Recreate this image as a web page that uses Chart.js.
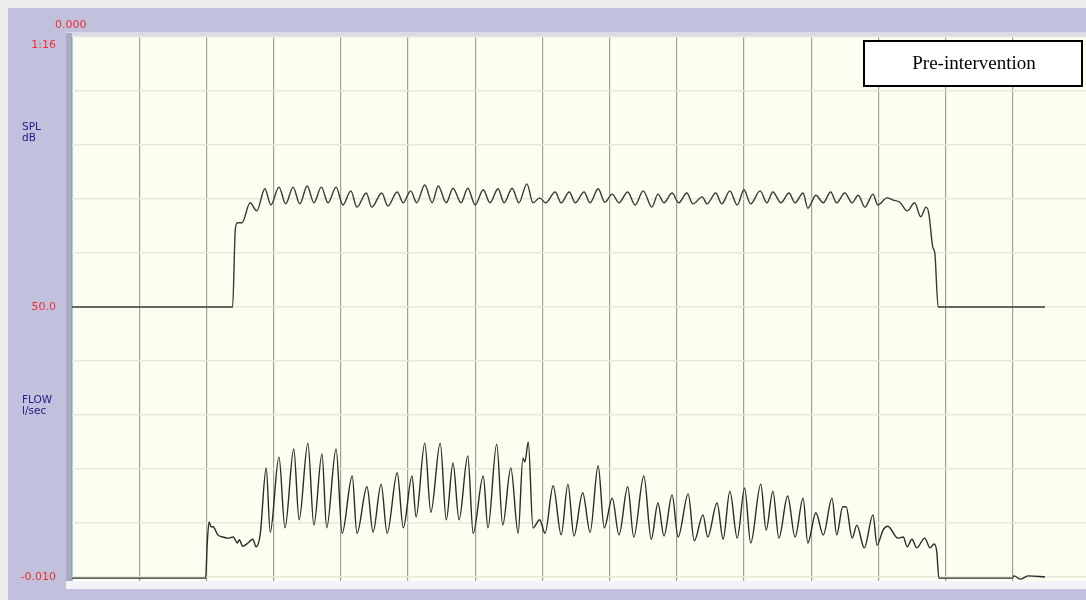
<!DOCTYPE html>
<html>
<head>
<meta charset="utf-8">
<script src="https://cdn.jsdelivr.net/npm/chart.js@4/dist/chart.umd.min.js"></script>
<style>
  html, body { margin: 0; padding: 0; background: #eeeeee; }
  #wrap { width: 1086px; height: 600px; position: relative; }
</style>
</head>
<body>
<div id="wrap"><canvas id="c" width="1086" height="600"></canvas></div>
<script>
// ---- Data (time in grid divisions, amplitude in grid divisions) ----
const splTime = [0.00,2.39,2.43,2.46,2.53,2.65,2.75,2.87,2.96,3.08,3.18,3.29,3.39,3.50,3.60,3.71,3.81,3.93,4.03,4.15,4.24,4.38,4.46,4.61,4.70,4.84,4.93,5.04,5.13,5.25,5.36,5.45,5.57,5.67,5.79,5.89,6.00,6.12,6.22,6.34,6.43,6.55,6.65,6.77,6.86,6.96,7.05,7.19,7.28,7.40,7.49,7.62,7.71,7.83,7.93,8.04,8.14,8.27,8.38,8.50,8.63,8.72,8.81,8.93,9.03,9.15,9.24,9.38,9.45,9.58,9.67,9.79,9.90,10.00,10.10,10.24,10.34,10.43,10.55,10.67,10.76,10.88,10.95,11.07,11.18,11.29,11.38,11.50,11.61,11.70,11.80,11.92,11.99,12.13,12.22,12.32,12.43,12.54,12.63,12.71,12.75,12.81,12.84,12.89,14.48];
const splLevel = [5.00,5.00,6.43,6.56,6.56,6.93,6.78,7.19,6.89,7.22,6.91,7.22,6.91,7.24,6.93,7.22,6.93,7.22,6.89,7.15,6.85,7.11,6.85,7.11,6.87,7.13,6.93,7.15,6.93,7.26,6.93,7.24,6.93,7.20,6.93,7.20,6.89,7.17,6.93,7.19,6.93,7.20,6.93,7.28,6.93,7.02,6.93,7.13,6.93,7.13,6.93,7.13,6.93,7.19,6.94,7.09,6.93,7.13,6.89,7.15,6.85,7.09,6.93,7.11,6.93,7.11,6.91,7.04,6.91,7.11,6.91,7.15,6.89,7.17,6.91,7.15,6.93,7.13,6.93,7.11,6.93,7.11,6.83,7.07,6.93,7.13,6.93,7.11,6.93,7.07,6.85,7.09,6.89,7.02,6.98,6.94,6.78,6.93,6.67,6.85,6.74,6.11,6.00,5.00,5.00];

const flowTime = [0.00,1.99,2.01,2.04,2.07,2.10,2.17,2.25,2.32,2.40,2.46,2.49,2.54,2.62,2.69,2.74,2.80,2.89,2.95,3.08,3.17,3.30,3.38,3.51,3.60,3.72,3.79,3.93,4.02,4.17,4.24,4.39,4.48,4.60,4.69,4.84,4.93,5.06,5.12,5.25,5.34,5.48,5.57,5.67,5.76,5.89,5.97,6.12,6.19,6.32,6.41,6.53,6.64,6.71,6.74,6.79,6.86,6.96,7.04,7.16,7.28,7.38,7.47,7.60,7.71,7.83,7.92,8.04,8.14,8.27,8.36,8.51,8.62,8.72,8.81,8.93,9.02,9.17,9.26,9.39,9.46,9.60,9.69,9.79,9.90,10.01,10.10,10.25,10.33,10.43,10.52,10.65,10.76,10.88,10.95,11.07,11.18,11.31,11.38,11.47,11.52,11.61,11.68,11.79,11.92,11.98,12.07,12.14,12.29,12.37,12.43,12.50,12.57,12.69,12.77,12.83,12.87,12.90,13.99,14.02,14.11,14.23,14.48];
const flowLevel = [-0.02,-0.02,0.56,1.02,0.93,0.93,0.78,0.74,0.72,0.74,0.63,0.69,0.57,0.63,0.70,0.56,0.78,2.02,0.83,2.22,0.91,2.37,1.06,2.48,0.96,2.28,0.91,2.37,0.81,1.87,0.81,1.67,0.83,1.72,0.81,1.93,0.91,1.87,1.11,2.48,1.20,2.48,1.06,2.11,1.06,2.24,0.81,1.87,0.91,2.46,0.96,2.02,0.81,2.20,2.13,2.50,0.91,1.06,0.81,1.69,0.78,1.72,0.76,1.56,0.83,2.06,0.91,1.46,0.78,1.67,0.74,1.87,0.70,1.37,0.76,1.52,0.74,1.54,0.67,1.15,0.74,1.37,0.70,1.59,0.72,1.65,0.63,1.72,0.87,1.59,0.72,1.50,0.74,1.46,0.63,1.19,0.78,1.46,0.78,1.30,1.30,0.72,0.96,0.54,1.15,0.59,0.87,0.94,0.72,0.74,0.56,0.70,0.54,0.72,0.54,0.61,0.46,-0.02,-0.02,0.02,-0.04,0.02,0.00];

const xGridTicks = [0,1,2,3,4,5,6,7,8,9,10,11,12,13,14];
const yGridTicks = [0,1,2,3,4,5,6,7,8,9,10];

const topLabel = '0.000';
const valueLabels = [ {text: '1:16', at: 10}, {text: '50.0', at: 5}, {text: '-0.010', at: 0} ];
const channelNames = [ {lines: ['SPL', 'dB'], at: 8.32}, {lines: ['FLOW', 'l/sec'], at: 3.27} ];
const legendText = 'Pre-intervention';

// ---- build datasets ----
const zip = (xs, ys) => xs.map((x, i) => ({x: x, y: ys[i]}));

const framePlugin = {
  id: 'frame',
  beforeDraw(chart) {
    const ctx = chart.ctx;
    const a = chart.chartArea;
    ctx.save();
    ctx.fillStyle = '#eeeeee';
    ctx.fillRect(0, 0, 1086, 600);
    // lavender frame
    ctx.fillStyle = '#c1c1de';
    ctx.fillRect(8, 8, 1078, 592);
    // top bevel under title bar
    ctx.fillStyle = '#dadae6';
    ctx.fillRect(66, 32, 1020, a.top - 32);
    // left dark strip
    ctx.fillStyle = '#a9a9c8';
    ctx.fillRect(66, 33, a.left - 66, a.bottom - 33 + 2);
    // bottom light bevel
    ctx.fillStyle = '#f3f3f9';
    ctx.fillRect(66, a.bottom, 1020, 589 - a.bottom);
    // plot background
    ctx.fillStyle = '#fefef0';
    ctx.fillRect(a.left, a.top, a.right - a.left, a.bottom - a.top);
    // cyan edge
    ctx.fillStyle = '#7ff0f0';
    ctx.fillRect(a.left, a.top, 1, a.bottom - a.top);
    ctx.restore();
  },
  afterDraw(chart) {
    const ctx = chart.ctx;
    const ys = chart.scales.y;
    ctx.save();
    ctx.font = '11px "DejaVu Sans", Verdana, sans-serif';
    ctx.textBaseline = 'middle';
    // top label
    ctx.fillStyle = '#f03030';
    ctx.textAlign = 'left';
    ctx.fillText(topLabel, 55, 25);
    // value labels
    ctx.textAlign = 'right';
    valueLabels.forEach(l => {
      let y = ys.getPixelForValue(l.at);
      if (l.at === 10) y += 8;
      ctx.fillText(l.text, 56, y);
    });
    // channel names
    ctx.fillStyle = '#202088';
    ctx.textAlign = 'left';
    ctx.font = '10.5px "DejaVu Sans", Verdana, sans-serif';
    channelNames.forEach(c => {
      const y0 = ys.getPixelForValue(c.at);
      c.lines.forEach((t, i) => ctx.fillText(t, 22, y0 + i * 10.5));
    });
    // legend box
    ctx.fillStyle = '#ffffff';
    ctx.fillRect(864, 41, 218, 45);
    ctx.strokeStyle = '#000000';
    ctx.lineWidth = 2;
    ctx.strokeRect(864, 41, 218, 45);
    ctx.fillStyle = '#000000';
    ctx.font = '19px "Liberation Serif", "Times New Roman", serif';
    ctx.textAlign = 'center';
    ctx.fillText(legendText, 974, 64);
    ctx.restore();
  }
};

new Chart(document.getElementById('c'), {
  type: 'line',
  data: {
    datasets: [
      { label: 'SPL dB', data: zip(splTime, splLevel), borderColor: '#383838', borderWidth: 1.4,
        pointRadius: 0, fill: false, cubicInterpolationMode: 'monotone' },
      { label: 'FLOW l/sec', data: zip(flowTime, flowLevel), borderColor: '#2a2a2a', borderWidth: 1.4,
        pointRadius: 0, fill: false, cubicInterpolationMode: 'monotone' }
    ]
  },
  options: {
    responsive: false,
    animation: false,
    events: [],
    layout: { padding: { left: 72, top: 37, right: 0, bottom: 19 } },
    plugins: { legend: { display: false }, tooltip: { enabled: false } },
    scales: {
      x: {
        type: 'linear', min: 0, max: 15.09,
        afterBuildTicks: s => { s.ticks = xGridTicks.map(v => ({value: v})); },
        ticks: { display: false },
        border: { display: false },
        grid: { color: '#a0a098', lineWidth: 1.2, drawTicks: false }
      },
      y: {
        type: 'linear', min: -0.074, max: 10,
        afterBuildTicks: s => { s.ticks = yGridTicks.map(v => ({value: v})); },
        ticks: { display: false },
        border: { display: false },
        grid: { color: '#e8e8da', lineWidth: 1.6, drawTicks: false }
      }
    }
  },
  plugins: [framePlugin]
});
</script>
</body>
</html>
